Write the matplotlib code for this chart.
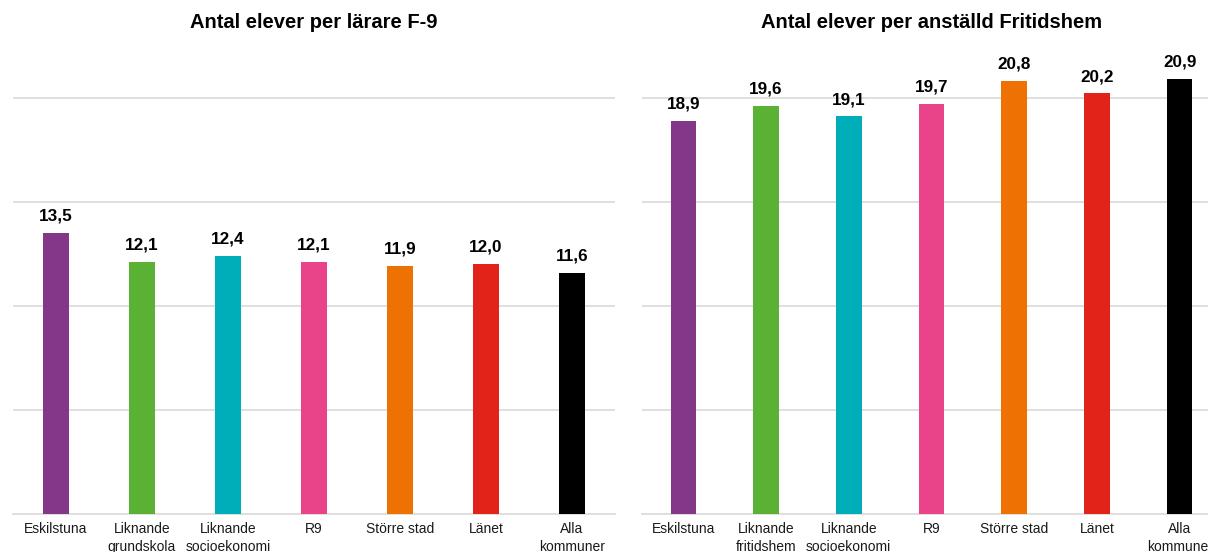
import matplotlib
matplotlib.use("Agg")
import matplotlib.pyplot as plt

plt.rcParams['font.family'] = ['Liberation Sans', 'DejaVu Sans']

# data
left_cats = ['Eskilstuna', 'Liknande\ngrundskola', 'Liknande\nsocioekonomi', 'R9',
             'Större stad', 'Länet', 'Alla\nkommuner']
left_vals = [13.5, 12.1, 12.4, 12.1, 11.9, 12.0, 11.6]
right_cats = ['Eskilstuna', 'Liknande\nfritidshem', 'Liknande\nsocioekonomi', 'R9',
              'Större stad', 'Länet', 'Alla\nkommuner']
right_vals = [18.9, 19.6, 19.1, 19.7, 20.8, 20.2, 20.9]
colors = ['#823788', '#5BB134', '#00AEBA', '#E9438A', '#EE7203', '#E2231A', '#000000']

W, H = 1208, 552
fig = plt.figure(figsize=(W / 100, H / 100), dpi=100)

base = 514
top = 56
ymax = 22.0


def draw(ax, cats, vals, title):
    x = range(len(cats))
    ax.bar(x, vals, width=0.31, color=colors, zorder=3)
    for xi, v in zip(x, vals):
        ax.text(xi, v + 0.45, f'{v:.1f}'.replace('.', ','), ha='center', va='bottom',
                fontsize=12.3, fontweight='bold', color='#000000')
    ax.set_xlim(-0.5, len(cats) - 0.5)
    ax.set_ylim(0, ymax)
    ax.set_yticks([5, 10, 15, 20])
    ax.yaxis.grid(True, color='#d9d9d9', linewidth=1.2, zorder=0)
    ax.tick_params(axis='y', left=False, labelleft=False)
    ax.tick_params(axis='x', length=0, pad=6, labelsize=10)
    ax.set_xticks(list(x))
    ax.set_xticklabels(cats, linespacing=1.3, color='#1a1a1a')
    for s in ['top', 'right', 'left']:
        ax.spines[s].set_visible(False)
    ax.spines['bottom'].set_color('#d9d9d9')
    ax.spines['bottom'].set_linewidth(1.2)
    ax.set_title(title, fontsize=14.5, fontweight='bold', pad=20)


hb = (base - top) / H
ax1 = fig.add_axes([13 / W, 1 - base / H, 602 / W, hb])
ax2 = fig.add_axes([642 / W, 1 - base / H, 579 / W, hb])
draw(ax1, left_cats, left_vals, 'Antal elever per lärare F-9')
draw(ax2, right_cats, right_vals, 'Antal elever per anställd Fritidshem')

fig.savefig('out.png', dpi=100)
